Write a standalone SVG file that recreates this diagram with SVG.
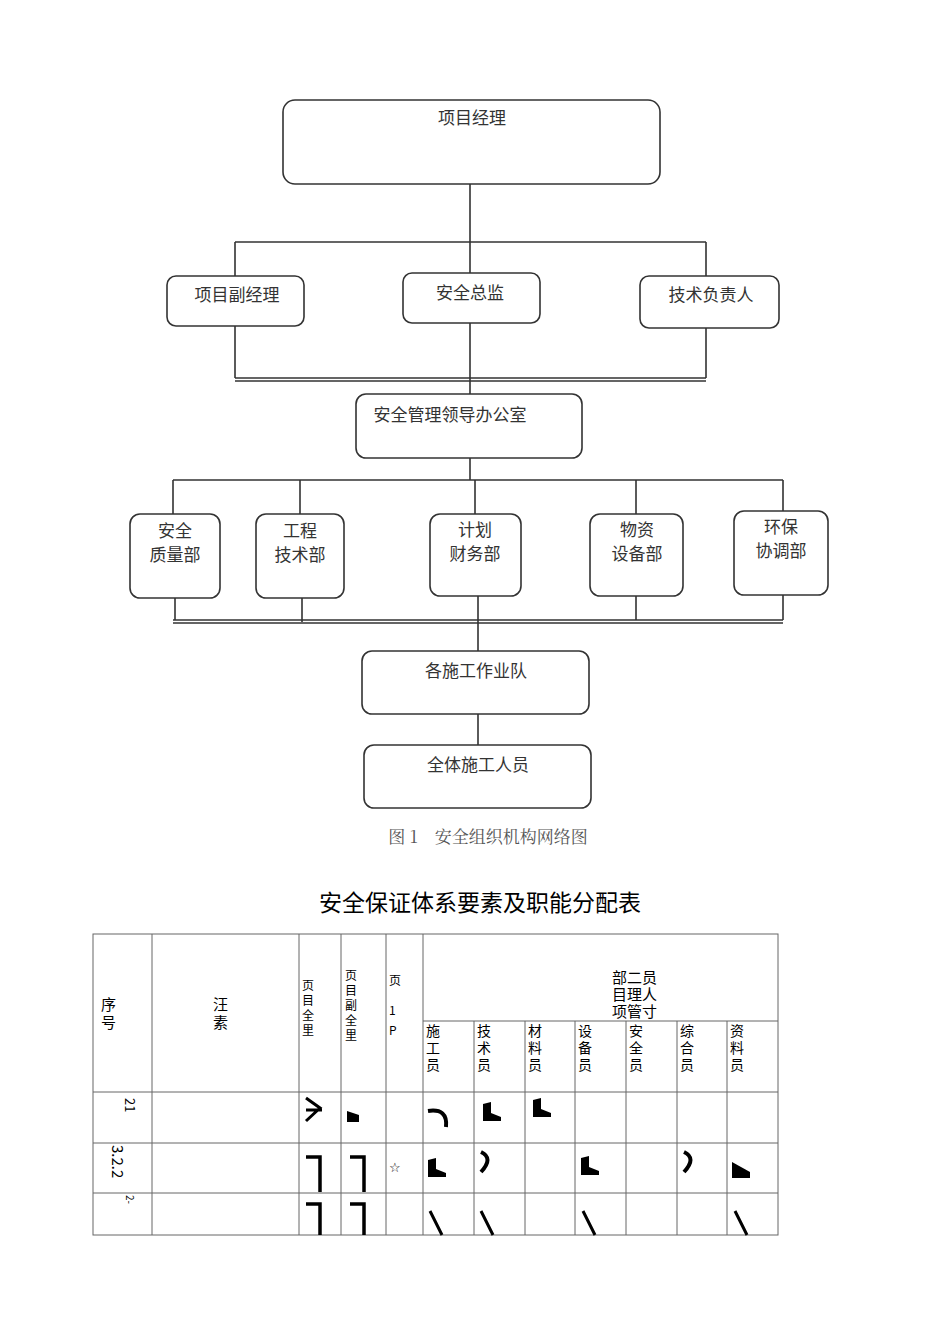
<svg xmlns="http://www.w3.org/2000/svg" width="950" height="1344" viewBox="0 0 950 1344">
<style>
.b{fill:#fff;stroke:#333;stroke-width:1.6}
.l{stroke:#333;stroke-width:1.6;fill:none}
.t{font-family:"Noto Sans CJK SC","Noto Sans CJK JP",serif;font-size:17px;fill:#333;text-anchor:middle}
.g{stroke:#666;stroke-width:1;fill:none}
.s{font-family:"Noto Sans CJK SC",sans-serif;font-size:14px;fill:#000}
.m{fill:#000}
</style>
<rect width="950" height="1344" fill="#fff"/>
<g id="connectors">
<path class="l" d="M470 184V242M235 242H706M235 242V276M470 242V273M706 242V276"/>
<path class="l" d="M235 326V378M706 328V378M470 323V394M235 378H706M235 381H706"/>
<path class="l" d="M470 458V480M173 480H783M173 480V514M300 480V514M475 480V514M636 480V514M783 480V511"/>
<path class="l" d="M175 598V620M302 598V622M478 596V651M636 596V620M783 595V620M173 620H783M173 623H783"/>
<path class="l" d="M478 714V745"/>
</g>
<g id="n1"><rect class="b" x="283" y="100" width="377" height="84" rx="12"/><text class="t" x="472" y="124">项目经理</text></g>
<g id="n2"><rect class="b" x="167" y="276" width="137" height="50" rx="9"/><text class="t" x="237" y="301">项目副经理</text></g>
<g id="n3"><rect class="b" x="403" y="273" width="137" height="50" rx="9"/><text class="t" x="470" y="299">安全总监</text></g>
<g id="n4"><rect class="b" x="640" y="276" width="139" height="52" rx="9"/><text class="t" x="711" y="301">技术负责人</text></g>
<g id="n5"><rect class="b" x="356" y="394" width="226" height="64" rx="10"/><text class="t" x="450" y="421">安全管理领导办公室</text></g>
<g id="n6"><rect class="b" x="130" y="514" width="90" height="84" rx="10"/><text class="t" x="175" y="537">安全</text><text class="t" x="175" y="561">质量部</text></g>
<g id="n7"><rect class="b" x="256" y="514" width="88" height="84" rx="10"/><text class="t" x="300" y="537">工程</text><text class="t" x="300" y="561">技术部</text></g>
<g id="n8"><rect class="b" x="430" y="514" width="91" height="82" rx="10"/><text class="t" x="475" y="536">计划</text><text class="t" x="475" y="560">财务部</text></g>
<g id="n9"><rect class="b" x="590" y="514" width="93" height="82" rx="10"/><text class="t" x="637" y="536">物资</text><text class="t" x="637" y="560">设备部</text></g>
<g id="n10"><rect class="b" x="734" y="511" width="94" height="84" rx="10"/><text class="t" x="781" y="533">环保</text><text class="t" x="781" y="557">协调部</text></g>
<g id="n11"><rect class="b" x="362" y="651" width="227" height="63" rx="10"/><text class="t" x="476" y="677">各施工作业队</text></g>
<g id="n12"><rect class="b" x="364" y="745" width="227" height="63" rx="10"/><text class="t" x="478" y="771">全体施工人员</text></g>
<text x="488" y="843" style="font-family:'Noto Serif CJK SC','Noto Sans CJK SC',serif;font-size:17px;fill:#555;text-anchor:middle">图 1　安全组织机构网络图</text>
<text x="480" y="911" style="font-family:'Noto Sans CJK SC',sans-serif;font-size:23px;fill:#000;text-anchor:middle">安全保证体系要素及职能分配表</text>
<g id="table">
<rect class="g" x="93" y="934" width="685" height="301"/>
<path class="g" d="M152 934V1235M299 934V1235M341 934V1235M386 934V1235M423 934V1235M474 1021V1235M525 1021V1235M575 1021V1235M626 1021V1235M677 1021V1235M727 1021V1235M423 1021H778M93 1092H778M93 1143H778M93 1193H778"/>
<g class="s" style="font-size:15px"><text x="101" y="1010">序</text><text x="101" y="1028">号</text><text x="213" y="1010">汪</text><text x="213" y="1028">素</text></g>
<g class="s" style="font-size:12px">
<text x="302" y="990">页</text><text x="302" y="1005">目</text><text x="302" y="1020">全</text><text x="302" y="1035">里</text>
<text x="345" y="980">页</text><text x="345" y="995">目</text><text x="345" y="1010">副</text><text x="345" y="1025">全</text><text x="345" y="1040">里</text>
<text x="389" y="985">页</text><text x="389" y="1015">1</text><text x="389" y="1035">P</text>
</g>
<g class="s" style="font-size:15px"><text x="612" y="983">部二员</text><text x="612" y="1000">目理人</text><text x="612" y="1017">项管寸</text></g>
<g class="s">
<text x="426" y="1036">施</text><text x="426" y="1053">工</text><text x="426" y="1070">员</text>
<text x="477" y="1036">技</text><text x="477" y="1053">术</text><text x="477" y="1070">员</text>
<text x="528" y="1036">材</text><text x="528" y="1053">料</text><text x="528" y="1070">员</text>
<text x="578" y="1036">设</text><text x="578" y="1053">备</text><text x="578" y="1070">员</text>
<text x="629" y="1036">安</text><text x="629" y="1053">全</text><text x="629" y="1070">员</text>
<text x="680" y="1036">综</text><text x="680" y="1053">合</text><text x="680" y="1070">员</text>
<text x="730" y="1036">资</text><text x="730" y="1053">料</text><text x="730" y="1070">员</text>
</g>
<text class="s" transform="translate(125 1098) rotate(90)" style="font-size:13px">21</text>
<text class="s" transform="translate(112 1145) rotate(90)" style="font-size:15px">3.2.2</text>
<text class="s" transform="translate(126 1195) rotate(90)" style="font-size:10px">2-</text>
<text x="389" y="1172" style="font-size:13px;font-family:'DejaVu Sans',sans-serif">☆</text>
<g class="m">
<path d="M306 1098l14 10-14 13 M306 1110h16" stroke="#000" stroke-width="3" fill="none"/>
<path d="M347 1111l12 4v7h-12z"/>
<path d="M428 1111q20-3 18 16" stroke="#000" stroke-width="4" fill="none"/>
<path d="M483 1104l8-2v11l10 4v4h-18z"/>
<path d="M533 1100l8-2v11l10 4v4h-18z"/>
<path d="M306 1157h14v35M350 1157h14v35" stroke="#000" stroke-width="3.5" fill="none"/>
<path d="M428 1160l8-2v11l10 4v4h-18z"/>
<path d="M481 1152q13 6 0 20" stroke="#000" stroke-width="4" fill="none"/>
<path d="M581 1158l8-2v11l10 4v4h-18z"/>
<path d="M684 1152q13 6 0 20" stroke="#000" stroke-width="4" fill="none"/>
<path d="M732 1162l18 10v6h-18z"/>
<path d="M306 1204h14v31M350 1204h14v31" stroke="#000" stroke-width="3.5" fill="none"/>
<path d="M430 1211l12 24M481 1211l12 24M583 1211l12 24M735 1211l12 24" stroke="#000" stroke-width="3" fill="none"/>
</g>
</g>
</svg>
